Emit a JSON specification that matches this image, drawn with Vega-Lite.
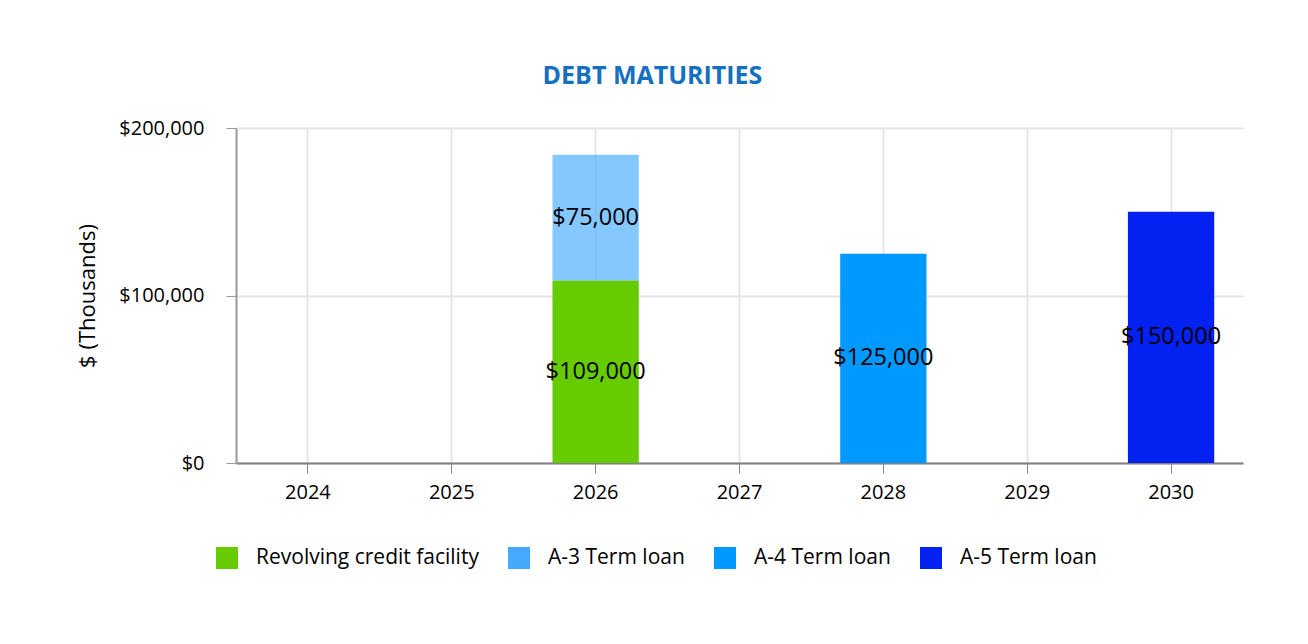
{
  "$schema": "https://vega.github.io/schema/vega-lite/v6.json",
  "autosize": "none",
  "width": 1007,
  "height": 335,
  "padding": {"left": 236, "top": 128, "right": 65, "bottom": 181},
  "background": "white",
  "title": {
    "text": "DEBT MATURITIES",
    "font": "Open Sans",
    "fontSize": 25,
    "fontWeight": "bold",
    "color": "#1570BF",
    "anchor": "middle",
    "dx": -87,
    "offset": 29
  },
  "data": {
    "values": [
      {"year": "2026", "series": "Revolving credit facility", "rank": 1, "value": 109000, "label": "$109,000"},
      {"year": "2026", "series": "A-3 Term loan", "rank": 2, "value": 75000, "label": "$75,000"},
      {"year": "2028", "series": "A-4 Term loan", "rank": 3, "value": 125000, "label": "$125,000"},
      {"year": "2030", "series": "A-5 Term loan", "rank": 4, "value": 150000, "label": "$150,000"}
    ]
  },
  "encoding": {
    "x": {
      "field": "year",
      "type": "ordinal",
      "scale": {"domain": ["2024", "2025", "2026", "2027", "2028", "2029", "2030"], "paddingInner": 0.4, "paddingOuter": 0.2},
      "axis": {
        "title": null,
        "labelAngle": 0,
        "labelFont": "Open Sans",
        "labelFontSize": 20,
        "labelColor": "#000000",
        "labelPadding": 9,
        "tickSize": 10,
        "tickColor": "#888888",
        "domainColor": "#808080",
        "domainWidth": 2,
        "grid": true,
        "gridColor": "#e6e6e6",
        "gridWidth": 2,
        "bandPosition": 0.5
      }
    }
  },
  "layer": [
    {
      "mark": {"type": "bar"},
      "encoding": {
        "y": {
          "field": "value",
          "type": "quantitative",
          "stack": "zero",
          "scale": {"domain": [0, 200000], "nice": false},
          "axis": {
            "title": "$ (Thousands)",
            "titleFont": "Open Sans",
            "titleFontSize": 22,
            "titleFontWeight": "normal",
            "titleColor": "#000000",
            "titlePadding": 19,
            "values": [0, 100000, 200000],
            "format": "$,.0f",
            "labelFont": "Open Sans",
            "labelFontSize": 20,
            "labelColor": "#000000",
            "labelPadding": 22,
            "tickSize": 10,
            "tickColor": "#999999",
            "domainColor": "#999999",
            "domainWidth": 2,
            "gridColor": "#e6e6e6",
            "gridWidth": 2
          }
        },
        "order": {"field": "rank", "type": "quantitative"},
        "color": {
          "field": "series",
          "type": "nominal",
          "sort": ["Revolving credit facility", "A-3 Term loan", "A-4 Term loan", "A-5 Term loan"],
          "scale": {
            "domain": ["Revolving credit facility", "A-3 Term loan", "A-4 Term loan", "A-5 Term loan"],
            "range": ["#66cc00", "#44aaff", "#0099ff", "#0322f2"]
          },
          "legend": {
            "title": null,
            "orient": "none",
            "direction": "horizontal",
            "legendX": -20,
            "legendY": 419,
            "symbolType": "square",
            "symbolSize": 484,
            "symbolStrokeWidth": 0,
            "symbolOpacity": 1,
            "labelFont": "Open Sans",
            "labelFontSize": 21,
            "labelColor": "#000000",
            "labelOffset": 18,
            "columnPadding": 29,
            "labelLimit": 400
          }
        },
        "opacity": {
          "condition": {"test": "datum.series === 'A-3 Term loan'", "value": 0.65},
          "value": 1
        }
      }
    },
    {
      "mark": {"type": "text", "font": "Open Sans", "fontSize": 23.5, "color": "#000000", "baseline": "middle"},
      "encoding": {
        "y": {"field": "value", "type": "quantitative", "stack": "zero", "bandPosition": 0.5},
        "text": {"field": "label"},
        "detail": {"field": "series"},
        "order": {"field": "rank", "type": "quantitative"}
      }
    }
  ],
  "config": {
    "view": {"stroke": null}
  }
}
